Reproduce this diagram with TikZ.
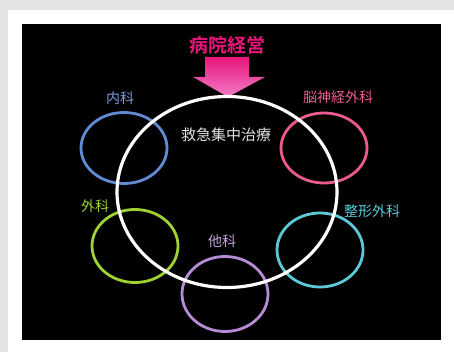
\documentclass[tikz,border=0pt]{standalone}
\usepackage{fontspec}
\newfontfamily\jpfont{Noto Sans CJK JP}
\newfontfamily\jpbold{Noto Sans CJK JP Bold}
\definecolor{bgc}{HTML}{E4E4E4}
\definecolor{mag}{HTML}{E8157A}
\definecolor{magl}{HTML}{F27CC8}
\definecolor{cblue}{HTML}{5F8CD2}
\definecolor{cpink}{HTML}{EC5A90}
\definecolor{cgreen}{HTML}{9ED232}
\definecolor{ccyan}{HTML}{5CC8D8}
\definecolor{cpurp}{HTML}{B68CD6}
\definecolor{ctext}{HTML}{E2E2E2}
\tikzset{
  ring/.style={draw, line width=2.8pt, ellipse, inner sep=0pt},
  lbl/.style={font=\jpfont\fontsize{14}{14}\selectfont, inner sep=0pt},
}
\usetikzlibrary{shapes.geometric}
\begin{document}
\begin{tikzpicture}[x=1pt,y=-1pt]
\useasboundingbox (0,0) rectangle (454,352);
\fill[bgc] (0,0) rectangle (454,352);
\fill[white] (8,10) rectangle (454,352);
\fill[black] (22,24) rectangle (441,340);
% title
\node[font=\jpbold\fontsize{19}{19}\selectfont, text=mag, inner sep=0pt] (title) at (227,45) {病院経営};
% arrow
\shade[top color=mag, bottom color=magl] (205,57) -- (249,57) -- (249,77) -- (265,77) -- (228,97) -- (193,77) -- (205,77) -- cycle;
\coordinate (tip) at (228,97);
% colored rings
\node[ring, cblue, minimum width=86pt, minimum height=71pt] (naika) at (124,148) {};
\node[ring, cpink, minimum width=86pt, minimum height=70pt] (nou) at (324,148) {};
\node[ring, cgreen, minimum width=86pt, minimum height=73pt] (geka) at (135,246) {};
\node[ring, ccyan, minimum width=86pt, minimum height=74pt] (seikei) at (320,250) {};
\node[ring, cpurp, minimum width=86pt, minimum height=75pt] (taka) at (225,294) {};
% big white ring
\node[ring, white, line width=3.2pt, minimum width=220pt, minimum height=191pt] (center) at (227,192) {};
% labels
\node[lbl, text=cblue!85!white] (lnaika) at (120,98) {内科};
\node[lbl, text=cpink] (lnou) at (338,97) {脳神経外科};
\node[lbl, text=cgreen] (lgeka) at (95,206) {外科};
\node[lbl, text=ccyan] (lseikei) at (372,211) {整形外科};
\node[lbl, text=cpurp!80!white] (ltaka) at (222,241) {他科};
\node[font=\jpfont\fontsize{15}{15}\selectfont, text=ctext, inner sep=0pt] (ltext) at (226,135) {救急集中治療};
\end{tikzpicture}
\end{document}
